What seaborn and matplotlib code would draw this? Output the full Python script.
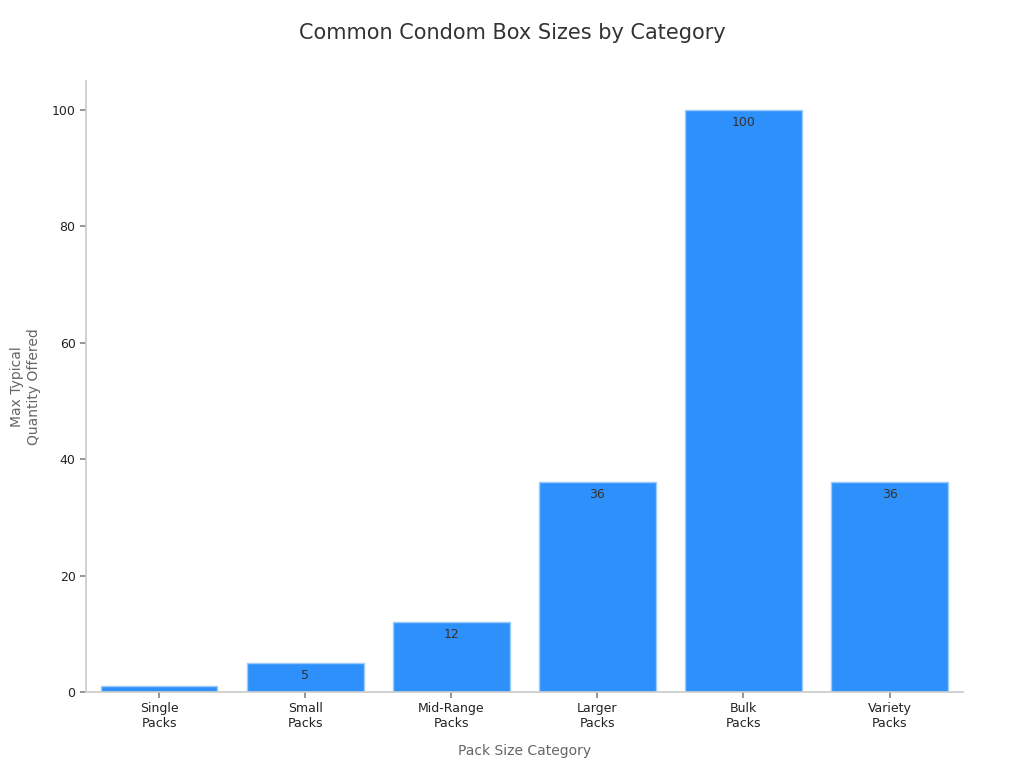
import matplotlib
matplotlib.use("Agg")
import matplotlib.pyplot as plt
import seaborn as sns
import pandas as pd

categories = ["Single\nPacks", "Small\nPacks", "Mid-Range\nPacks", "Larger\nPacks", "Bulk\nPacks", "Variety\nPacks"]
values = [1, 5, 12, 36, 100, 36]

sns.set_theme(style="white")
plt.rcParams["font.family"] = ["DejaVu Sans"]

df = pd.DataFrame({"cat": categories, "val": values})
fig, ax = plt.subplots(figsize=(10.24, 7.68), dpi=100)
sns.barplot(data=df, x="cat", y="val", color="#2E90FA", saturation=1, width=0.8,
            edgecolor="#9ECBFC", linewidth=1, ax=ax)
for i, v in enumerate(values):
    ax.text(i, v - 1.0, str(v), ha="center", va="top", fontsize=9, color="#333333", clip_on=True)

ax.set_xlim(-0.5, 5.5)
ax.set_ylim(0, 105)
ax.set_yticks([0, 20, 40, 60, 80, 100])
ax.tick_params(axis="both", labelsize=9, colors="#222222", length=4, bottom=True, left=True)
ax.tick_params(axis="both", color="#888888")
for s in ["top", "right"]:
    ax.spines[s].set_visible(False)
for s in ["left", "bottom"]:
    ax.spines[s].set_color("#cccccc")
ax.set_xlabel("Pack Size Category", fontsize=10, color="#666666", labelpad=10)
ax.set_ylabel("Max Typical\nQuantity Offered", fontsize=10, color="#666666", labelpad=8)
fig.suptitle("Common Condom Box Sizes by Category", fontsize=15, color="#333333", y=0.97)
fig.subplots_adjust(left=0.084, right=0.94, top=0.895, bottom=0.099)
fig.savefig("out.png")
